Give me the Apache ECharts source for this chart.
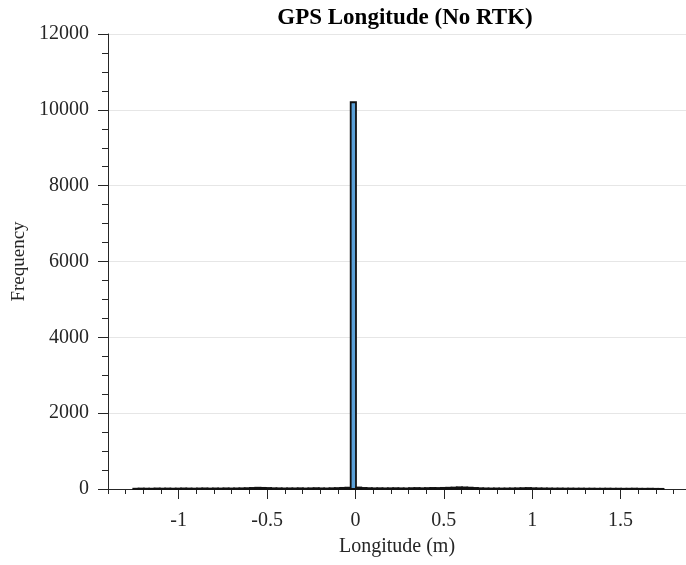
<!DOCTYPE html>
<html>
<head>
<meta charset="utf-8">
<script src="https://cdn.jsdelivr.net/npm/echarts@6/dist/echarts.min.js"></script>
<style>
  html, body { margin: 0; padding: 0; background: #fff; }
  #chart { width: 686px; height: 565px; }
</style>
</head>
<body>
<div id="chart"></div>
<script>
// histogram bins (longitude error, m)
const binStart = -1.257;
const binWidth = 0.03;
const counts = [
  8, 12, 10, 9, 14, 11, 13, 10, 12, 15,
  13, 11, 14, 16, 12, 15, 13, 17, 14, 16,
  18, 22, 28, 34, 30, 26, 20, 18, 15, 17,
  16, 19, 14, 18, 22, 17, 15, 20, 24, 30,
  36, 10200, 40, 28, 22, 18, 20, 17, 19, 21,
  18, 16, 22, 25, 20, 24, 28, 26, 30, 34,
  38, 45, 42, 36, 28, 20, 16, 14, 15, 13,
  14, 16, 18, 22, 26, 20, 17, 15, 14, 12,
  13, 11, 12, 10, 11, 9, 10, 8, 9, 10,
  8, 9, 7, 8, 10, 7, 6, 8, 5, 4
];
const xMajorTicks = [-1, -0.5, 0, 0.5, 1, 1.5];

const bins = counts.map(function (c, i) {
  const x0 = binStart + i * binWidth;
  return [x0, x0 + binWidth, c];
});

const font = '"Liberation Serif", "Times New Roman", serif';
const axisColor = '#262626';

const myChart = echarts.init(document.getElementById('chart'));
myChart.setOption({
  animation: false,
  title: {
    text: 'GPS Longitude (No RTK)',
    left: 400,
    textAlign: 'center',
    top: 2,
    textStyle: { fontFamily: font, fontSize: 23, fontWeight: 'bold', color: '#000' }
  },
  grid: { left: 108, right: 0, top: 34, bottom: 76 },
  xAxis: [
    {
      type: 'value',
      min: -1.4,
      max: 1.87,
      name: 'Longitude (m)',
      nameLocation: 'middle',
      nameGap: 48,
      nameTextStyle: { fontFamily: font, fontSize: 20, color: '#262626' },
      axisLine: { show: true, onZero: false, lineStyle: { color: axisColor, width: 1 } },
      axisTick: { show: true, length: 10, customValues: xMajorTicks, lineStyle: { color: axisColor } },
      axisLabel: {
        customValues: xMajorTicks,
        margin: 22,
        fontFamily: font,
        fontSize: 20,
        color: '#262626'
      },
      splitLine: { show: false }
    },
    {
      type: 'value',
      min: -1.4,
      max: 1.87,
      interval: 0.1,
      position: 'bottom',
      axisLine: { show: false, onZero: false },
      axisTick: { show: true, length: 5, lineStyle: { color: axisColor } },
      axisLabel: { show: false },
      splitLine: { show: false }
    }
  ],
  yAxis: {
    type: 'value',
    min: 0,
    max: 12000,
    interval: 2000,
    name: 'Frequency',
    nameLocation: 'middle',
    nameGap: 79,
    nameTextStyle: { fontFamily: font, fontSize: 19, color: '#262626' },
    axisLine: { show: true, onZero: false, lineStyle: { color: axisColor, width: 1 } },
    axisTick: { show: true, length: 10, lineStyle: { color: axisColor } },
    minorTick: { show: true, splitNumber: 4, length: 6, lineStyle: { color: axisColor } },
    axisLabel: {
      margin: 19,
      fontFamily: font,
      fontSize: 20,
      color: '#262626',
      formatter: function (v) { return String(v); }
    },
    splitLine: { show: true, lineStyle: { color: '#e6e6e6', width: 1 } }
  },
  series: [
    {
      type: 'custom',
      xAxisIndex: 0,
      data: bins,
      renderItem: function (params, api) {
        const p0 = api.coord([api.value(0), api.value(2)]);
        const p1 = api.coord([api.value(1), 0]);
        return {
          type: 'rect',
          shape: { x: p0[0], y: p0[1], width: p1[0] - p0[0], height: p1[1] - p0[1] },
          style: { fill: '#5a9fd6', stroke: '#111', lineWidth: 1.8 }
        };
      },
      encode: { x: [0, 1], y: 2 }
    }
  ]
});
</script>
</body>
</html>
